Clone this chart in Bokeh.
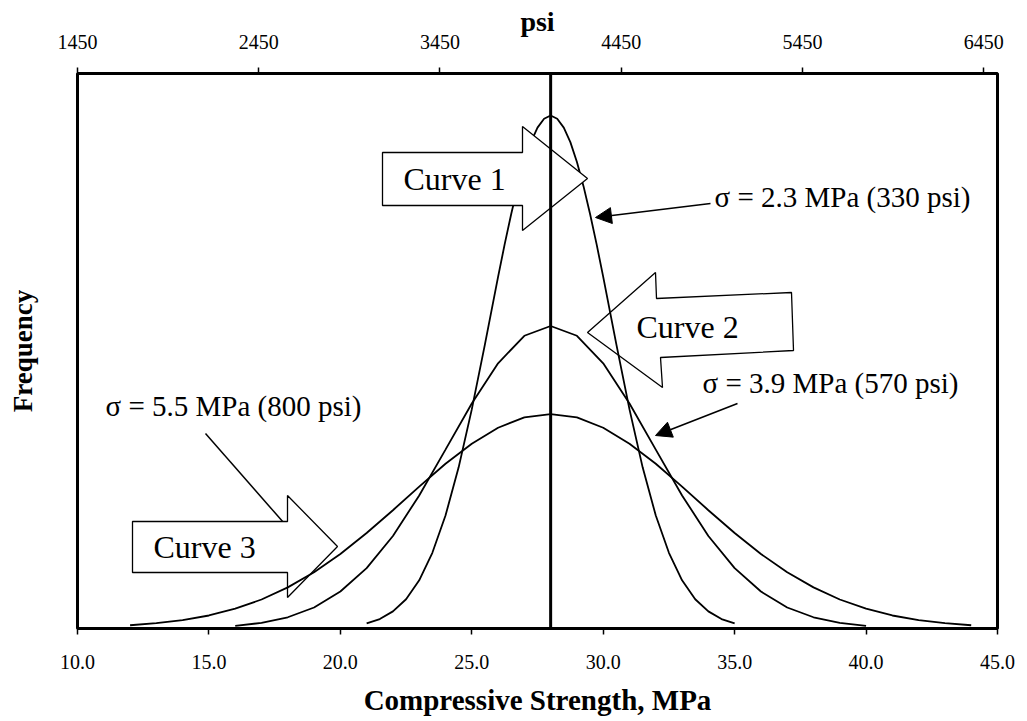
from bokeh.plotting import figure
from bokeh.models import (Range1d, LinearAxis, FixedTicker, PrintfTickFormatter,
                          Label, Arrow, NormalHead, Span)
from bokeh.embed import file_html
from bokeh.resources import INLINE

# ---------------- data ----------------
mean_strength = 28.0

curve1_x = [21.0, 21.5, 22.0, 22.5, 23.0, 23.5, 24.0, 24.5, 25.0, 25.5, 26.0,
            26.25, 26.5, 26.75, 27.0, 27.25, 27.5, 27.75, 28.0, 28.25, 28.5,
            28.75, 29.0, 29.25, 29.5, 29.75, 30.0, 30.5, 31.0, 31.5, 32.0,
            32.5, 33.0, 33.5, 34.0, 34.5, 35.0]
curve1_y = [0.0017, 0.0032, 0.0058, 0.0099, 0.0163, 0.0256, 0.0382, 0.0545,
            0.0741, 0.0961, 0.1189, 0.1299, 0.1402, 0.1496, 0.1578, 0.1645,
            0.1694, 0.1724, 0.1735, 0.1724, 0.1694, 0.1645, 0.1578, 0.1496,
            0.1402, 0.1299, 0.1189, 0.0961, 0.0741, 0.0545, 0.0382, 0.0256,
            0.0163, 0.0099, 0.0058, 0.0032, 0.0017]

curve2_x = [16, 17, 18, 19, 20, 21, 22, 23, 24, 25, 26, 27, 28, 29, 30, 31, 32,
            33, 34, 35, 36, 37, 38, 39, 40]
curve2_y = [0.0009, 0.0019, 0.0038, 0.0071, 0.0125, 0.0204, 0.0313, 0.0450,
            0.0605, 0.0761, 0.0897, 0.0990, 0.1023, 0.0990, 0.0897, 0.0761,
            0.0605, 0.0450, 0.0313, 0.0204, 0.0125, 0.0071, 0.0038, 0.0019,
            0.0009]

curve3_x = [12, 13, 14, 15, 16, 17, 18, 19, 20, 21, 22, 23, 24, 25, 26, 27, 28,
            29, 30, 31, 32, 33, 34, 35, 36, 37, 38, 39, 40, 41, 42, 43, 44]
curve3_y = [0.0011, 0.0018, 0.0028, 0.0044, 0.0067, 0.0098, 0.0139, 0.0190,
            0.0252, 0.0323, 0.0400, 0.0480, 0.0557, 0.0625, 0.0679, 0.0714,
            0.0725, 0.0714, 0.0679, 0.0625, 0.0557, 0.0480, 0.0400, 0.0323,
            0.0252, 0.0190, 0.0139, 0.0098, 0.0067, 0.0044, 0.0028, 0.0018,
            0.0011]

mpa_ticks = [10, 15, 20, 25, 30, 35, 40, 45]
psi_ticks = [1450, 2450, 3450, 4450, 5450, 6450]

sigma_labels = ["\u03c3 = 2.3 MPa (330 psi)",
                "\u03c3 = 3.9 MPa (570 psi)",
                "\u03c3 = 5.5 MPa (800 psi)"]
curve_names = ["Curve 1", "Curve 2", "Curve 3"]

# ---------------- layout helpers ----------------
X_MIN, X_MAX = 10, 45
Y_MAX = 0.1877
PSI_PER_MPA = 145.04
FONT = "Liberation Serif"

FR_L, FR_R, FR_T, FR_B = 77, 997, 73, 628   # frame edges in pixels


def fx(px):
    return X_MIN + (px - FR_L) * (X_MAX - X_MIN) / (FR_R - FR_L)


def fy(py):
    return (FR_B - py) * Y_MAX / (FR_B - FR_T)


p = figure(frame_width=FR_R - FR_L, frame_height=FR_B - FR_T,
           x_range=Range1d(X_MIN, X_MAX), y_range=Range1d(0, Y_MAX),
           output_backend="svg", toolbar_location=None,
           min_border_left=FR_L, min_border_top=FR_T,
           min_border_right=25, min_border_bottom=88)
p.background_fill_color = "white"
p.border_fill_color = "white"
p.outline_line_color = "black"
p.outline_line_width = 3
p.xgrid.visible = False
p.ygrid.visible = False

# bottom axis
xa = p.xaxis[0]
xa.ticker = FixedTicker(ticks=mpa_ticks)
xa.formatter = PrintfTickFormatter(format="%.1f")
xa.axis_line_color = None
xa.major_tick_out = 6
xa.major_tick_in = 0
xa.major_tick_line_width = 1.5
xa.minor_tick_line_color = None
xa.major_label_text_font = FONT
xa.major_label_text_font_size = "20px"
xa.major_label_text_color = "black"
xa.major_label_standoff = 20
xa.axis_label = "Compressive Strength, MPa"
xa.axis_label_text_font = FONT
xa.axis_label_text_font_style = "bold"
xa.axis_label_text_font_size = "29px"
xa.axis_label_text_color = "black"
xa.axis_label_standoff = 12

# top axis (psi)
p.extra_x_ranges = {"psi": Range1d(1450.0, 1450.0 + (X_MAX - X_MIN) * PSI_PER_MPA)}
ta = LinearAxis(x_range_name="psi", ticker=FixedTicker(ticks=psi_ticks))
ta.axis_line_color = None
ta.major_tick_out = 6
ta.major_tick_in = 0
ta.major_tick_line_width = 1.5
ta.minor_tick_line_color = None
ta.major_label_text_font = FONT
ta.major_label_text_font_size = "20px"
ta.major_label_text_color = "black"
ta.major_label_standoff = 19
ta.axis_label = "psi"
ta.axis_label_text_font = FONT
ta.axis_label_text_font_style = "bold"
ta.axis_label_text_font_size = "28px"
ta.axis_label_text_color = "black"
ta.axis_label_standoff = -5
p.add_layout(ta, "above")

# left axis: only the title
ya = p.yaxis[0]
ya.ticker = FixedTicker(ticks=[])
ya.axis_line_color = None
ya.major_tick_line_color = None
ya.minor_tick_line_color = None
ya.axis_label = "Frequency"
ya.axis_label_text_font = FONT
ya.axis_label_text_font_style = "bold"
ya.axis_label_text_font_size = "27px"
ya.axis_label_text_color = "black"
ya.axis_label_standoff = 40

# ---------------- block arrows for curves 2 and 3 (under the curves) -------------
arrow2_px = [(587, 332), (655, 272), (656, 298), (791, 292), (793, 350),
             (660, 357), (662, 387)]
arrow3_px = [(132, 521), (287, 521), (287, 495), (337, 546), (287, 597),
             (287, 572), (132, 572)]
arrow1_px = [(382, 152), (522, 152), (522, 126), (587, 178), (522, 230),
             (522, 205), (382, 205)]

# leader line for sigma = 5.5 (ends under the curve 3 arrow)
p.segment(x0=[fx(205)], y0=[fy(433)], x1=[fx(290)], y1=[fy(530)],
          line_color="black", line_width=1.5)

for pts in (arrow2_px, arrow3_px):
    p.patch([fx(a) for a, b in pts], [fy(b) for a, b in pts],
            fill_color="white", line_color="black", line_width=1.3)

# ---------------- curves ----------------
for cx, cy in ((curve3_x, curve3_y), (curve2_x, curve2_y), (curve1_x, curve1_y)):
    p.line(cx, cy, line_color="black", line_width=1.8)

# block arrow for curve 1 (covers the curve)
p.patch([fx(a) for a, b in arrow1_px], [fy(b) for a, b in arrow1_px],
        fill_color="white", line_color="black", line_width=1.3)

# mean line
p.add_layout(Span(location=mean_strength, dimension="height",
                  line_color="black", line_width=3))

# ---------------- texts ----------------
for name, (px, py) in zip(curve_names, [(403, 178), (636, 326), (153, 546)]):
    p.add_layout(Label(x=fx(px), y=fy(py), text=name, text_font=FONT,
                       text_font_size="32px", text_baseline="middle",
                       text_align="left", text_color="black"))

for txt, (px, py) in zip(sigma_labels, [(714, 196), (702, 382), (105, 405)]):
    p.add_layout(Label(x=fx(px), y=fy(py), text=txt, text_font=FONT,
                       text_font_size="29px", text_baseline="middle",
                       text_align="left", text_color="black"))

# pointer arrows for sigma labels
for (x0, y0), (x1, y1) in (((710, 203), (595, 217)), ((737, 403), (655, 435))):
    p.add_layout(Arrow(end=NormalHead(size=16, fill_color="black",
                                      line_color="black"),
                       x_start=fx(x0), y_start=fy(y0), x_end=fx(x1), y_end=fy(y1),
                       line_color="black", line_width=1.5))

open("out.html", "w").write(file_html(p, INLINE))
